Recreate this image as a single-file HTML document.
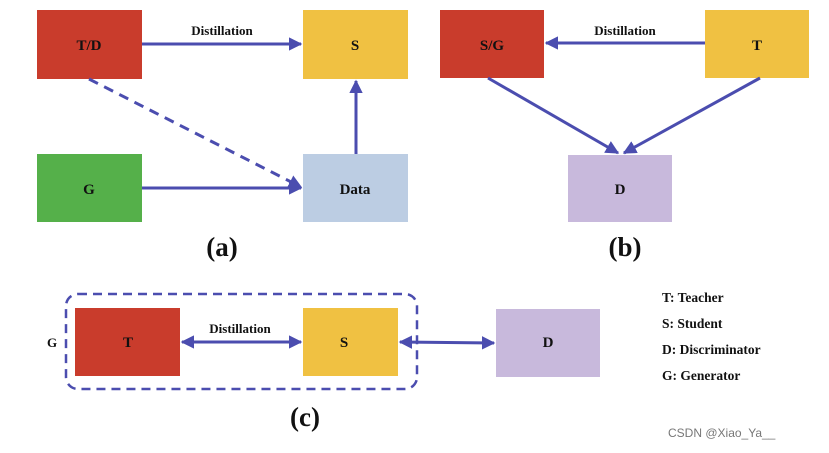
<!DOCTYPE html>
<html><head><style>
body{margin:0;background:#fff;width:829px;height:448px;overflow:hidden}
svg text{font-family:"Liberation Serif",serif;font-weight:bold;fill:#111}
</style></head><body>
<svg width="829" height="448" viewBox="0 0 829 448">
<defs>
<marker id="ah" viewBox="0 0 10 10" refX="9" refY="5" markerWidth="4.5" markerHeight="4.5" orient="auto-start-reverse"><path d="M0,0L10,5L0,10z" fill="#4b4daf"/></marker>
</defs>
<g font-size="15" text-anchor="middle">
<rect x="37" y="10" width="105" height="69" fill="#c93c2c"/><text x="89" y="50">T/D</text>
<rect x="303" y="10" width="105" height="69" fill="#f0c142"/><text x="355" y="50">S</text>
<rect x="37" y="154" width="105" height="68" fill="#55b04a"/><text x="89" y="194">G</text>
<rect x="303" y="154" width="105" height="68" fill="#bccde3"/><text x="355" y="194">Data</text>
<text x="222" y="35" font-size="13">Distillation</text>
<text x="222" y="256" font-size="27">(a)</text>

<rect x="440" y="10" width="104" height="68" fill="#c93c2c"/><text x="492" y="50">S/G</text>
<rect x="705" y="10" width="104" height="68" fill="#f0c142"/><text x="757" y="50">T</text>
<rect x="568" y="155" width="104" height="67" fill="#c8b9dc"/><text x="620" y="194">D</text>
<text x="625" y="35" font-size="13">Distillation</text>
<text x="625" y="256" font-size="27">(b)</text>

<rect x="66" y="294" width="351" height="95" rx="12" fill="none" stroke="#4b4daf" stroke-width="2.5" stroke-dasharray="9,6"/>
<rect x="75" y="308" width="105" height="68" fill="#c93c2c"/><text x="128" y="347">T</text>
<rect x="303" y="308" width="95" height="68" fill="#f0c142"/><text x="344" y="347">S</text>
<rect x="496" y="309" width="104" height="68" fill="#c8b9dc"/><text x="548" y="347">D</text>
<text x="240" y="333" font-size="13">Distillation</text>
<text x="52" y="347" font-size="13">G</text>
<text x="305" y="426" font-size="27">(c)</text>
</g>
<g font-size="13.5">
<text x="662" y="302">T: Teacher</text>
<text x="662" y="328">S: Student</text>
<text x="662" y="354">D: Discriminator</text>
<text x="662" y="380">G: Generator</text>
</g>
<text x="668" y="437" font-size="12" style="font-family:'Liberation Sans',sans-serif;font-weight:normal;fill:#777">CSDN @Xiao_Ya__</text>

<g stroke="#4b4daf" stroke-width="3" fill="none">
<line x1="142" y1="44" x2="301" y2="44" marker-end="url(#ah)"/>
<line x1="142" y1="188" x2="301" y2="188" marker-end="url(#ah)"/>
<line x1="356" y1="154" x2="356" y2="81" marker-end="url(#ah)"/>
<line x1="89" y1="79" x2="301" y2="187" stroke-dasharray="10,7" marker-end="url(#ah)"/>
<line x1="705" y1="43" x2="546" y2="43" marker-end="url(#ah)"/>
<line x1="488" y1="78" x2="618" y2="153" marker-end="url(#ah)"/>
<line x1="760" y1="78" x2="624" y2="153" marker-end="url(#ah)"/>
<line x1="182" y1="342" x2="301" y2="342" marker-start="url(#ah)" marker-end="url(#ah)"/>
<line x1="400" y1="342" x2="494" y2="343" marker-start="url(#ah)" marker-end="url(#ah)"/>
</g>
</svg>
</body></html>
